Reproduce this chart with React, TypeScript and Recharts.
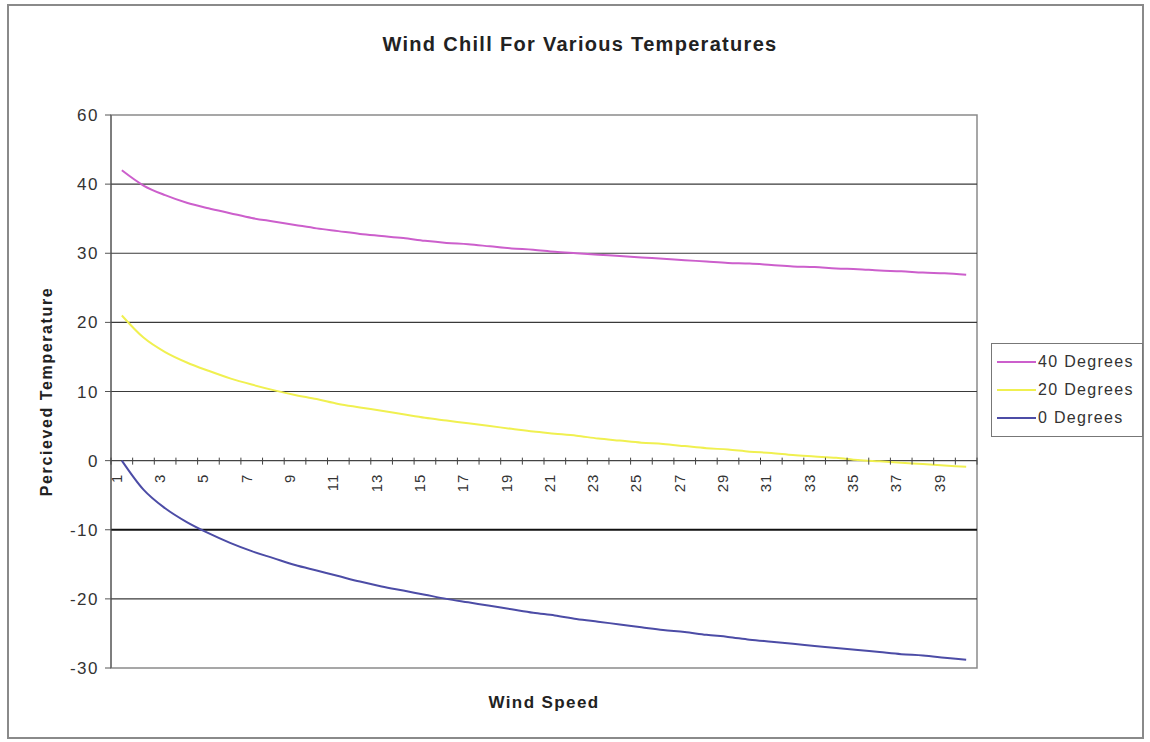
import React from 'react';
import {
  LineChart,
  Line,
  XAxis,
  YAxis,
  Legend,
  ReferenceLine,
  ReferenceDot,
  ReferenceArea,
} from 'recharts';

const windSpeeds = [
  1, 2, 3, 4, 5, 6, 7, 8, 9, 10, 11, 12, 13, 14, 15, 16, 17, 18, 19, 20,
  21, 22, 23, 24, 25, 26, 27, 28, 29, 30, 31, 32, 33, 34, 35, 36, 37, 38, 39, 40,
];

const deg40 = [
  42.0, 39.8, 38.4, 37.3, 36.5, 35.8, 35.1, 34.6, 34.1, 33.6,
  33.2, 32.8, 32.5, 32.2, 31.8, 31.5, 31.3, 31.0, 30.7, 30.5,
  30.2, 30.0, 29.8, 29.6, 29.4, 29.2, 29.0, 28.8, 28.6, 28.5,
  28.3, 28.1, 28.0, 27.8, 27.7, 27.5, 27.4, 27.2, 27.1, 26.9,
];

const deg20 = [
  21.0, 17.8, 15.7, 14.2, 13.0, 11.9, 11.0, 10.2, 9.5, 8.9,
  8.2, 7.7, 7.2, 6.7, 6.2, 5.8, 5.4, 5.0, 4.6, 4.2,
  3.9, 3.6, 3.2, 2.9, 2.6, 2.4, 2.1, 1.8, 1.6, 1.3,
  1.1, 0.8, 0.6, 0.4, 0.1, -0.1, -0.3, -0.5, -0.7, -0.9,
];

const deg0 = [
  0.0, -4.2, -6.9, -8.9, -10.5, -11.9, -13.1, -14.1, -15.1, -15.9,
  -16.7, -17.5, -18.2, -18.8, -19.4, -20.0, -20.5, -21.0, -21.5, -22.0,
  -22.4, -22.9, -23.3, -23.7, -24.1, -24.5, -24.8, -25.2, -25.5, -25.9,
  -26.2, -26.5, -26.8, -27.1, -27.4, -27.7, -28.0, -28.2, -28.5, -28.8,
];

const seriesNames = ['40 Degrees', '20 Degrees', '0 Degrees'];
const seriesKeys = ['d40', 'd20', 'd0'];
const seriesColors = ['#cc5fcc', '#f0f050', '#4c4ca6'];

const yTickValues = [-30, -20, -10, 0, 10, 20, 30, 40, 50];
const yTickLabels = ['-30', '-20', '-10', '0', '10', '20', '30', '40', '60'];
const gridValues = [40, 30, 20, 10, -10, -20];
const xLabelSpeeds = [1, 3, 5, 7, 9, 11, 13, 15, 17, 19, 21, 23, 25, 27, 29, 31, 33, 35, 37, 39];
const xBoundaries = [
  0.5, 1.5, 2.5, 3.5, 4.5, 5.5, 6.5, 7.5, 8.5, 9.5, 10.5, 11.5, 12.5, 13.5, 14.5, 15.5, 16.5,
  17.5, 18.5, 19.5, 20.5, 21.5, 22.5, 23.5, 24.5, 25.5, 26.5, 27.5, 28.5, 29.5, 30.5, 31.5,
  32.5, 33.5, 34.5, 35.5, 36.5, 37.5, 38.5, 39.5, 40.5,
];

const FONT = '"Liberation Sans", Arial, sans-serif';

const data = windSpeeds.map((w, i) => ({ speed: w, d40: deg40[i], d20: deg20[i], d0: deg0[i] }));

const TickMark = (props: any) => {
  const { cx, cy } = props;
  return <line x1={cx} x2={cx} y1={cy - 3} y2={cy + 4} stroke="#444" strokeWidth={1} />;
};

const makeTickLabel = (label: string) => (props: any) => {
  const { cx, cy } = props;
  const y = cy + 13;
  return (
    <text
      x={cx}
      y={y}
      transform={`rotate(-90, ${cx}, ${y})`}
      textAnchor="end"
      fontFamily={FONT}
      fontSize={15}
      fill="#333"
      letterSpacing={1}
    >
      {label}
    </text>
  );
};

const renderLegend = (props: any) => {
  const payload = props.payload || [];
  const ordered = seriesNames
    .map((n) => payload.find((p: any) => p.value === n))
    .filter(Boolean);
  return (
    <div
      style={{
        border: '1.5px solid #777',
        padding: '4px 4px 4px 5px',
        background: '#fff',
        boxSizing: 'border-box',
        width: 152,
        height: 94,
      }}
    >
      {ordered.map((entry: any) => (
        <div key={entry.value} style={{ display: 'flex', alignItems: 'center', height: 28 }}>
          <span
            style={{
              display: 'inline-block',
              width: 39,
              height: 2,
              background: entry.color,
              marginRight: 2,
            }}
          />
          <span style={{ fontSize: 16, color: '#333', fontFamily: FONT, letterSpacing: 1.3 }}>
            {entry.value}
          </span>
        </div>
      ))}
    </div>
  );
};

export default function App() {
  return (
    <div style={{ position: 'absolute', left: 0, top: 0, width: 1150, height: 742, background: '#fff' }}>
      <div
        style={{
          position: 'absolute',
          left: 7,
          top: 4,
          width: 1133,
          height: 731,
          border: '2px solid #8a8a8a',
        }}
      />
      <div
        style={{
          position: 'absolute',
          left: 0,
          top: 33,
          width: 1160,
          textAlign: 'center',
          fontWeight: 'bold',
          fontSize: 20,
          fontFamily: FONT,
          color: '#222',
          letterSpacing: 1.3,
        }}
      >
        Wind Chill For Various Temperatures
      </div>
      <div style={{ position: 'absolute', left: 0, top: 0 }}>
        <LineChart
          width={1150}
          height={742}
          data={data}
          margin={{ top: 115, right: 173, bottom: 0, left: 51 }}
        >
          <XAxis
            dataKey="speed"
            type="number"
            domain={[0.5, 40.5]}
            tick={false}
            tickLine={false}
            axisLine={false}
            height={74}
            label={{
              value: 'Wind Speed',
              position: 'center',
              dy: -3,
              style: { fontFamily: FONT, fontWeight: 'bold', fontSize: 17, fill: '#222', letterSpacing: 1.4 },
            }}
          />
          <YAxis
            type="number"
            domain={[-30, 50]}
            ticks={yTickValues}
            interval={0}
            tickFormatter={(v: number, i: number) => yTickLabels[i]}
            width={60}
            tickSize={6}
            tickMargin={6}
            stroke="#555"
            tick={{ fontFamily: FONT, fontSize: 17, fill: '#333', letterSpacing: 1.5 }}
            label={{
              value: 'Percieved Temperature',
              angle: -90,
              position: 'insideLeft',
              offset: -5,
              style: { textAnchor: 'middle', fontFamily: FONT, fontWeight: 'bold', fontSize: 16, fill: '#222', letterSpacing: 1.6 },
            }}
          />
          <ReferenceArea x1={0.5} x2={40.5} y1={-30} y2={50} fill="none" stroke="#8a8a8a" strokeWidth={1.5} />
          {gridValues.map((g) => (
            <ReferenceLine key={g} y={g} stroke={g === -10 ? '#111' : '#3a3a3a'} strokeWidth={g === -10 ? 2 : 1.2} />
          ))}
          <ReferenceLine y={0} stroke="#444" strokeWidth={1.2} />
          {xBoundaries.map((b) => (
            <ReferenceDot key={'t' + b} x={b} y={0} r={0} shape={TickMark} />
          ))}
          {xLabelSpeeds.map((s) => (
            <ReferenceDot key={'l' + s} x={s} y={0} r={0} shape={makeTickLabel(String(s))} />
          ))}
          {seriesKeys.map((k, i) => (
            <Line
              key={k}
              type="monotone"
              dataKey={k}
              name={seriesNames[i]}
              stroke={seriesColors[i]}
              strokeWidth={2}
              dot={false}
              isAnimationActive={false}
            />
          ))}
          <Legend
            layout="vertical"
            align="center"
            verticalAlign="middle"
            content={renderLegend}
            wrapperStyle={{ left: 991, top: 343, width: 152, height: 94 }}
          />
        </LineChart>
      </div>
    </div>
  );
}
